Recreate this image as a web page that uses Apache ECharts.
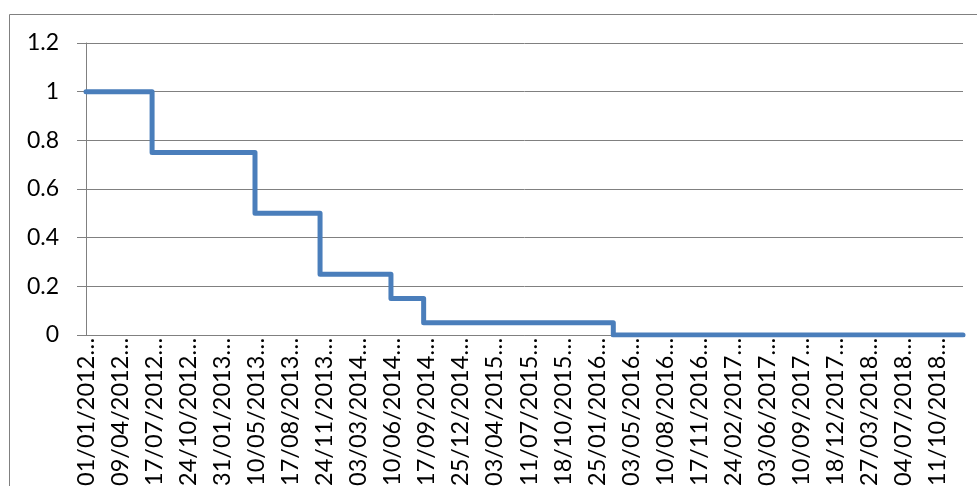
<!DOCTYPE html>
<html>
<head>
<meta charset="utf-8">
<script src="https://cdn.jsdelivr.net/npm/echarts@6/dist/echarts.min.js"></script>
<style>
	html, body {margin:0; padding:0; background:#fff;}
	#main {width:977px; height:486px;}
</style>
</head>
<body>
<div id="main"></div>
<script>
// dates where the value changes, and the value from that date on
var stepDates = ['01/01/2012','11/07/2012','06/05/2013','11/11/2013','05/06/2014','08/09/2014','12/03/2016','23/12/2018'];
var stepValues = [1, 0.75, 0.5, 0.25, 0.15, 0.05, 0, 0];

// category labels shown under the axis (every 99 days)
var tickLabels = ['01/01/2012','09/04/2012','17/07/2012','24/10/2012','31/01/2013','10/05/2013','17/08/2013','24/11/2013',
	'03/03/2014','10/06/2014','17/09/2014','25/12/2014','03/04/2015','11/07/2015','18/10/2015','25/01/2016',
	'03/05/2016','10/08/2016','17/11/2016','24/02/2017','03/06/2017','10/09/2017','18/12/2017','27/03/2018',
	'04/07/2018','11/10/2018'];

var yTicks = [0, 0.2, 0.4, 0.6, 0.8, 1, 1.2];

var DAY = 24 * 3600 * 1000;
var start = toTime(stepDates[0]);

function toTime(s){
	var p = s.split('/');
	return Date.UTC(+p[2], +p[1] - 1, +p[0]);
}

function dayOf(s){
	return Math.round((toTime(s) - start) / DAY);
}

function pad(n){
	return (n < 10 ? '0' : '') + n;
}

function dayToString(d){
	var t = new Date(start + d * DAY);
	return pad(t.getUTCDate()) + '/' + pad(t.getUTCMonth() + 1) + '/' + t.getUTCFullYear();
}

var seriesData = [];
for (var i = 0; i < stepDates.length; i++) {
	seriesData.push([dayOf(stepDates[i]), stepValues[i]]);
}

var myChart = echarts.init(document.getElementById('main'));
myChart.setOption({
	animation: false,
	graphic: [{
		type: 'rect',
		silent: true,
		shape: {x: 9.5, y: 14.5, width: 1000, height: 600},
		style: {fill: 'none', stroke: '#808080', lineWidth: 1}
	}],
	grid: {left: 86, right: 14, top: 43, bottom: 151, containLabel: false, outerBoundsMode: 'none'},
	xAxis: {
		type: 'value',
		min: 0,
		max: dayOf(stepDates[stepDates.length - 1]),
		interval: 99,
		splitLine: {show: false},
		axisTick: {show: false},
		axisLine: {show: true, lineStyle: {color: '#808080', width: 1}},
		axisLabel: {
			rotate: 90,
			margin: 3,
			showMaxLabel: false,
			fontFamily: 'Lato',
			fontSize: 23.5,
			color: '#000',
			formatter: function (v) {
				var s = dayToString(v);
				return tickLabels.indexOf(s) >= 0 ? s + '\u2026' : '';
			}
		}
	},
	yAxis: {
		type: 'value',
		min: yTicks[0],
		max: yTicks[yTicks.length - 1],
		interval: 0.2,
		axisLine: {show: true, lineStyle: {color: '#808080', width: 1}},
		axisTick: {show: true, length: 9, lineStyle: {color: '#808080'}},
		splitLine: {lineStyle: {color: '#808080', width: 1}},
		axisLabel: {
			margin: 27,
			fontFamily: 'Lato',
			fontSize: 23,
			color: '#000',
			formatter: function (v) {
				return String(Math.round(v * 10) / 10);
			}
		}
	},
	series: [{
		type: 'line',
		step: 'end',
		symbol: 'none',
		data: seriesData,
		lineStyle: {color: '#4a7ebb', width: 5, cap: 'round', join: 'round'}
	}]
});
</script>
</body>
</html>
